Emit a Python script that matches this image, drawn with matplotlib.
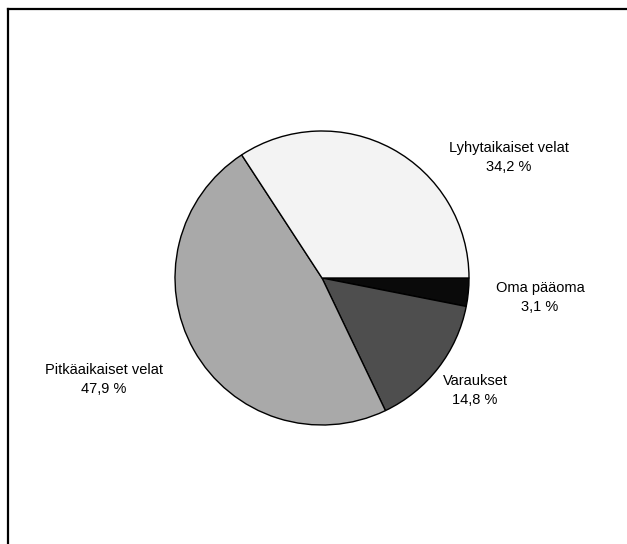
import matplotlib.pyplot as plt
from matplotlib.lines import Line2D

plt.rcParams['font.family'] = ['Liberation Sans', 'DejaVu Sans']

# capital structure, clockwise from 3 o'clock
labels = ['Oma pääoma', 'Varaukset', 'Pitkäaikaiset velat', 'Lyhytaikaiset velat']
shares = [3.1, 14.8, 47.9, 34.2]
colors = ['#0a0a0a', '#4e4e4e', '#a9a9a9', '#f3f3f3']

# label anchor points (pixels from top-left), first line / second line
label_xy = [(540, 288), (475, 381), (104, 370), (509, 148)]

W, H = 627, 544
fig = plt.figure(figsize=(W / 100, H / 100), dpi=100)
ax = fig.add_axes([0, 0, 1, 1])

cx, cy, r = 322, H - 278, 147
ax.pie(shares, colors=colors, startangle=0, counterclock=False,
       center=(cx, cy), radius=r,
       wedgeprops=dict(edgecolor='black', linewidth=1.0))
ax.set_xlim(0, W)
ax.set_ylim(0, H)
ax.set_aspect('equal')
ax.axis('off')

for name, val, (x, y) in zip(labels, shares, label_xy):
    pct = f"{val:.1f}".replace('.', ',') + ' %'
    ax.text(x, H - y, name, ha='center', va='center', fontsize=10.5)
    ax.text(x, H - y - 19, pct, ha='center', va='center', fontsize=10.5)

# box frame (only top and left visible)
fig.add_artist(Line2D([8 / W, 8 / W], [0, 1 - 9 / H], color='black', lw=1.6,
                      transform=fig.transFigure))
fig.add_artist(Line2D([8 / W, 1], [1 - 9 / H, 1 - 9 / H], color='black', lw=1.6,
                      transform=fig.transFigure))

fig.savefig('out.png', dpi=100, facecolor='white')
